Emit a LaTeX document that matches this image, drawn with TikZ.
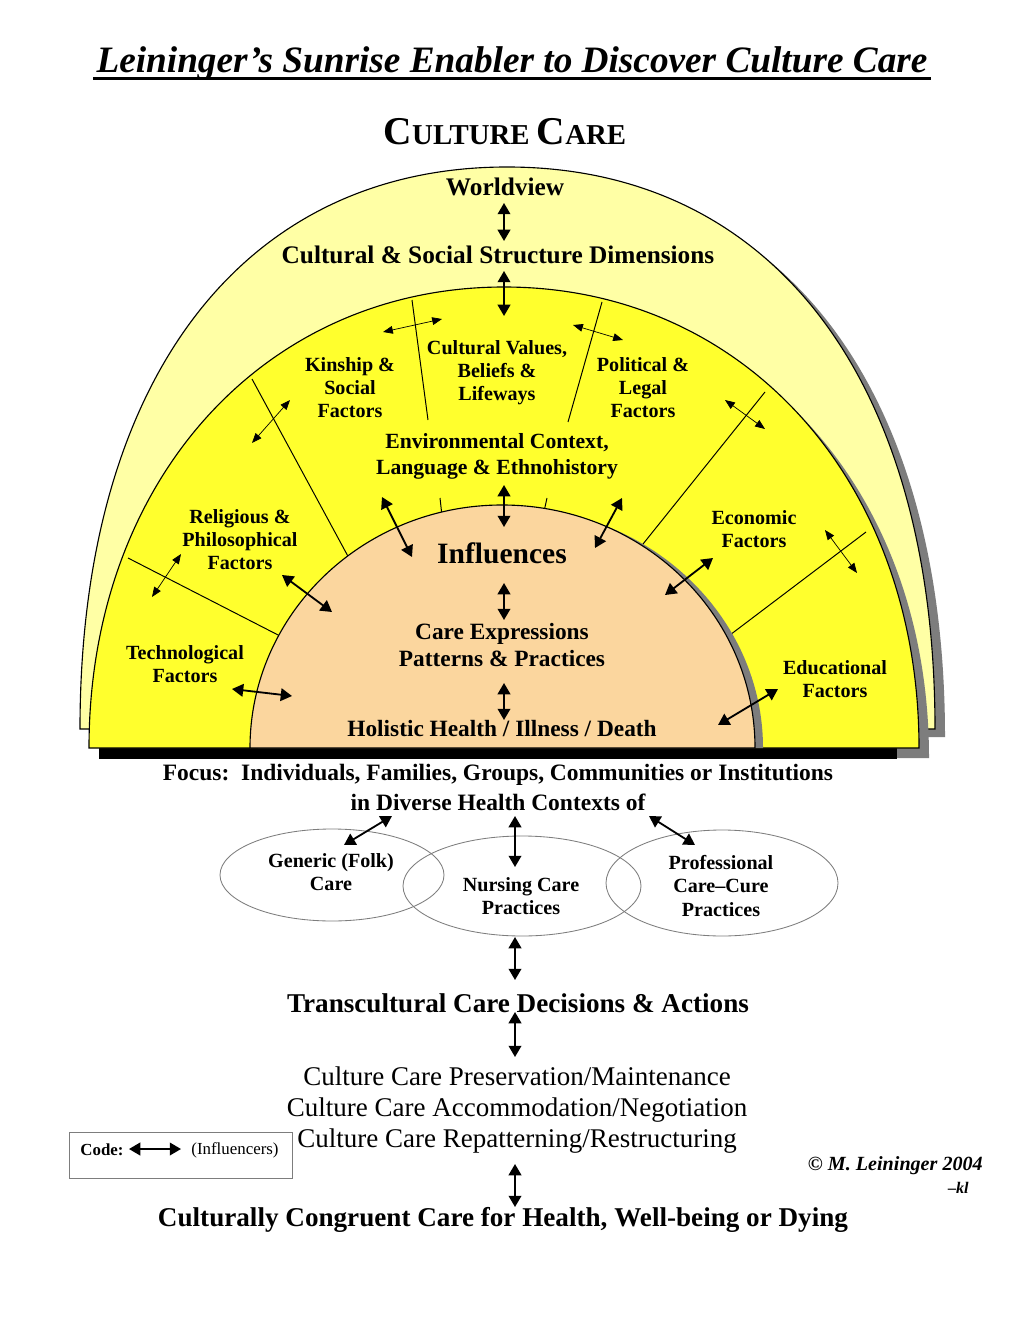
\documentclass[tikz,border=0pt]{standalone}
\usepackage{fontspec}
\setmainfont{Liberation Serif}
\usepackage{tikz}
\usetikzlibrary{arrows.meta}

\definecolor{paleyellow}{RGB}{255,255,165}
\definecolor{sunyellow}{RGB}{255,255,45}
\definecolor{peach}{RGB}{251,214,158}
\definecolor{shadowgrey}{RGB}{125,125,125}

\newcommand{\fsize}[2]{\fontsize{#1}{#2}\selectfont}

\tikzset{
  lbl/.style={font=\bfseries\fsize{14.3pt}{16.4pt}, align=center, inner sep=0pt},
  hdr/.style={font=\bfseries\fsize{18pt}{20pt}, inner sep=0pt},
  mid/.style={font=\bfseries\fsize{16.6pt}{19.2pt}, align=center, inner sep=0pt},
  low/.style={font=\bfseries\fsize{16.7pt}{18pt}, inner sep=0pt},
  act/.style={font=\bfseries\fsize{19.3pt}{21pt}, inner sep=0pt},
  opt/.style={font=\fsize{19.2pt}{22pt}, align=center, inner sep=0pt},
  bigarr/.style={{Triangle[length=8pt,width=9pt]}-{Triangle[length=8pt,width=9pt]}, line width=1.3pt},
  thinarr/.style={{Triangle[length=7pt,width=5.5pt]}-{Triangle[length=7pt,width=5.5pt]}, line width=0.5pt},
  sect/.style={line width=0.7pt},
}

\begin{document}
\begin{tikzpicture}[x=0.025cm, y=-0.025cm]

\useasboundingbox[fill=white] (0,0) rectangle (1024,1325);

% Title
\path
(512,64) node[inner sep=0pt, font=\bfseries\itshape\fsize{26.5pt}{30pt}] (ttl) {Leininger’s Sunrise Enabler to Discover Culture Care};
\draw[line width=2.2pt] ([yshift=-4pt,xshift=-2pt]ttl.base west) -- ([yshift=-4pt,xshift=2pt]ttl.base east);

\path
(505,132) node[inner sep=0pt, font=\bfseries] (cc) {{\fsize{28pt}{30pt}C}{\fsize{20.5pt}{22pt}ULTURE\ }{\fsize{28pt}{30pt}C}{\fsize{20.5pt}{22pt}ARE}};


%
% Worldview arch
%
\fill[shadowgrey] (90,737) .. controls (90,389) and (252,175) .. (517,175) .. controls (783,175) and (945,389) .. (945,737) -- cycle;

\filldraw[fill=paleyellow, draw=black, line width=0.8pt] (80,729) .. controls (80,381) and (242,167) .. (507,167) .. controls (773,167) and (935,381) .. (935,729) -- cycle;


%
% Factors arch
%
\fill[shadowgrey] (99,758) .. controls (99,491) and (274,297) .. (514,297) .. controls (754,297) and (929,491) .. (929,758) -- cycle;

\fill[black] (99,748) rectangle (897,759);

\filldraw[fill=sunyellow, draw=black, line width=0.8pt] (89,748) .. controls (89,481) and (264,287) .. (504,287) .. controls (744,287) and (919,481) .. (919,748) -- cycle;

% sector borders
\draw[sect] (128,558) -- (282,637);
\draw[sect] (252,379) -- (350,560);
\draw[sect] (412,300) -- (428,420);
\draw[sect] (602,302) -- (568,422);
\draw[sect] (765,392) -- (639,549);
\draw[sect] (866,532) -- (722,641);

% ticks on the influences arch
\draw[sect] (440,498) -- (442,516);
\draw[sect] (547,498) -- (543,516);


%
% Influences arch
%
\fill[shadowgrey] (258,748) .. controls (258,617) and (371,508) .. (510,508) .. controls (650,508) and (763,617) .. (763,748) -- cycle;

\filldraw[fill=peach, draw=black, line width=0.8pt] (250,748) .. controls (250,614) and (363,505) .. (502,505) .. controls (642,505) and (755,614) .. (755,748) -- cycle;


%
% Arch labels
%
\path
(505,187) node[hdr] (wv) {Worldview};
\path
(498,255) node[hdr] (cssd) {Cultural \& Social Structure Dimensions};

\path
(350,388) node[lbl] (kin) {Kinship \&\\Social\\Factors};
\path
(497,373) node[lbl] (cvbl) {Cultural Values,\\Beliefs \&\\Lifeways};
\path
(643,388) node[lbl] (pol) {Political \&\\Legal\\Factors};
\path
(497,456) node[lbl, font=\bfseries\fsize{15.4pt}{18.5pt}] (env) {Environmental Context,\\Language \& Ethnohistory};
\path
(240,540) node[lbl] (rel) {Religious \&\\Philosophical\\Factors};
\path
(754,529) node[lbl] (eco) {Economic\\Factors};
\path
(185,664) node[lbl] (tech) {Technological\\Factors};
\path
(835,679) node[lbl] (edu) {Educational\\Factors};

\path
(502,553) node[lbl, font=\bfseries\fsize{21pt}{24pt}] (infl) {Influences};
\path
(502,645) node[mid] (care) {Care Expressions\\Patterns \& Practices};
\path
(502,729) node[mid] (hhid) {Holistic Health / Illness / Death};


%
% Arch arrows
%
\coordinate (wvA) at (504,203);   \coordinate (wvB) at (504,241);
\coordinate (csA) at (504,271);   \coordinate (csB) at (504,316);
\coordinate (enA) at (504,485);   \coordinate (enB) at (504,527);
\coordinate (inA) at (504,583);   \coordinate (inB) at (504,620);
\coordinate (crA) at (504,683);   \coordinate (crB) at (504,720);

\draw[bigarr] (wvA) -- (wvB);
\draw[bigarr] (csA) -- (csB);
\draw[bigarr] (enA) -- (enB);
\draw[bigarr] (inA) -- (inB);
\draw[bigarr] (crA) -- (crB);

% between sectors
\coordinate (kinA) at (383,332);  \coordinate (kinB) at (442,319);
\coordinate (polA) at (573,325);  \coordinate (polB) at (623,340);
\coordinate (relA) at (252,443);  \coordinate (relB) at (290,400);
\coordinate (ecoA) at (725,400);  \coordinate (ecoB) at (765,429);
\coordinate (tecA) at (152,597);  \coordinate (tecB) at (181,554);
\coordinate (eduA) at (825,530);  \coordinate (eduB) at (857,573);

\draw[thinarr] (kinA) -- (kinB);
\draw[thinarr] (polA) -- (polB);
\draw[thinarr] (relA) -- (relB);
\draw[thinarr] (ecoA) -- (ecoB);
\draw[thinarr] (tecA) -- (tecB);
\draw[thinarr] (eduA) -- (eduB);

% into the influences
\coordinate (elA) at (382,497);   \coordinate (elB) at (412,557);
\coordinate (erA) at (622,498);   \coordinate (erB) at (595,548);
\coordinate (riA) at (282,575);   \coordinate (riB) at (332,612);
\coordinate (eiA) at (713,558);   \coordinate (eiB) at (665,595);
\coordinate (tiA) at (232,689);   \coordinate (tiB) at (292,696);
\coordinate (diA) at (778,689);   \coordinate (diB) at (718,725);

\draw[bigarr] (elA) -- (elB);
\draw[bigarr] (erA) -- (erB);
\draw[bigarr] (riA) -- (riB);
\draw[bigarr] (eiA) -- (eiB);
\draw[bigarr] (tiA) -- (tiB);
\draw[bigarr] (diA) -- (diB);


%
% Focus and care systems
%
\path
(498,775) node[low] (focus) {Focus:\ \ Individuals, Families, Groups, Communities or Institutions};
\path
(498,802) node[low] (ctx) {in Diverse Health Contexts of};

\draw[shadowgrey, line width=0.6pt] (332,875) ellipse [x radius=112, y radius=46];
\draw[shadowgrey, line width=0.6pt] (522,886) ellipse [x radius=119, y radius=50];
\draw[shadowgrey, line width=0.6pt] (722,883) ellipse [x radius=116, y radius=53];

\path
(331,872) node[lbl] (gen) {Generic (Folk)\\Care};
\path
(521,896) node[lbl] (nurs) {Nursing Care\\Practices};
\path
(721,886) node[lbl] (prof) {Professional\\Care–Cure\\Practices};

\coordinate (gnA) at (392,816);   \coordinate (gnB) at (344,845);
\coordinate (nsA) at (515,816);   \coordinate (nsB) at (515,867);
\coordinate (prA) at (649,816);   \coordinate (prB) at (695,845);

\draw[bigarr] (gnA) -- (gnB);
\draw[bigarr] (nsA) -- (nsB);
\draw[bigarr] (prA) -- (prB);


%
% Decisions and actions
%
\path
(518,1003) node[act] (tcd) {Transcultural Care Decisions \& Actions};
\path
(517,1110) node[opt] (ccpm) {Culture Care Preservation/Maintenance\\Culture Care Accommodation/Negotiation\\Culture Care Repatterning/Restructuring};
\path
(503,1220) node[act] (ccc) {Culturally Congruent Care for Health, Well-being or Dying};

\coordinate (d1A) at (515,937);   \coordinate (d1B) at (515,980);
\coordinate (d2A) at (515,1012);  \coordinate (d2B) at (515,1057);
\coordinate (d3A) at (515,1164);  \coordinate (d3B) at (515,1207);

\draw[bigarr] (d1A) -- (d1B);
\draw[bigarr] (d2A) -- (d2B);
\draw[bigarr] (d3A) -- (d3B);


%
% Code box
%
\draw[shadowgrey, line width=0.6pt] (69,1132) rectangle (292,1178);
\path
(102,1150) node[inner sep=0pt, font=\bfseries\fsize{12pt}{14pt}] (code) {Code:};
\path
(235,1150) node[inner sep=0pt, font=\fsize{12pt}{14pt}] (infr) {(Influencers)};
\coordinate (cdA) at (129,1149);  \coordinate (cdB) at (181,1149);
\draw[bigarr] (cdA) -- (cdB);

\path
(983,1166) node[anchor=east, inner sep=0pt, font=\bfseries\itshape\fsize{14.3pt}{16pt}] (copy) {© M. Leininger 2004};
\path
(969,1188) node[anchor=east, inner sep=0pt, font=\bfseries\itshape\fsize{11.5pt}{13pt}] (kl) {–kl};

\end{tikzpicture}
\end{document}
